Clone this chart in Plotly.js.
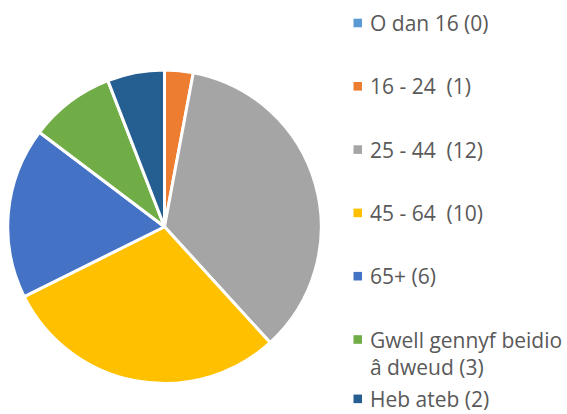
<!DOCTYPE html>
<html>
<head>
<meta charset="utf-8">
<script src="https://cdn.plot.ly/plotly-3.0.1.min.js"></script>
<style>html,body{margin:0;padding:0;background:#fff;}#chart{width:567px;height:414px;}</style>
</head>
<body>
<div id="chart"></div>
<script>
const categories = ["O dan 16", "16 - 24", "25 - 44", "45 - 64", "65+", "Gwell gennyf beidio â dweud", "Heb ateb"];
const counts = [0, 1, 12, 10, 6, 3, 2];
const legendText = ["O dan 16 (0)", "16 - 24  (1)", "25 - 44  (12)", "45 - 64  (10)", "65+ (6)", "Gwell gennyf beidio<br>â dweud (3)", "Heb ateb (2)"];
const colors = ["#5B9BD5", "#ED7D31", "#A5A5A5", "#FFC000", "#4472C4", "#70AD47", "#255E91"];

// legend layout constants (pixels from top-left)
const W = 567, H = 414;
const rowTop = 23, rowStep = 63.3;
const font = "'Open Sans', sans-serif";
const fs = 21, lineH = fs * 1.3;

const annotations = [];
const shapes = [];
legendText.forEach((t, i) => {
  const yc = Math.min(rowTop + i * rowStep, H - lineH / 2 - 1.5);
  const nLines = t.split("<br>").length;
  shapes.push({type: "rect", xref: "paper", yref: "paper",
    x0: 353.5 / W, x1: 362 / W, y0: 1 - (yc + 4.3) / H, y1: 1 - (yc - 4.3) / H,
    fillcolor: colors[i], line: {width: 0}});
  annotations.push({xref: "paper", yref: "paper", x: 369 / W,
    y: 1 - (yc + (nLines - 1) * lineH / 2) / H,
    xanchor: "left", yanchor: "middle", align: "left", showarrow: false, text: t,
    borderpad: 0,
    font: {family: font, size: fs, color: "#595959"}});
});

const data = [{
  type: "pie",
  labels: categories,
  values: counts,
  sort: false,
  direction: "clockwise",
  rotation: 0,
  marker: {colors: colors, line: {color: "#FFFFFF", width: 3}},
  textinfo: "none",
  hoverinfo: "label+value",
  showlegend: false,
  domain: {x: [7.5 / W, 321.5 / W], y: [30.5 / H, 344 / H]}
}];

const layout = {
  width: W, height: H,
  margin: {l: 0, r: 0, t: 0, b: 0},
  paper_bgcolor: "#FFFFFF",
  showlegend: false,
  annotations: annotations,
  shapes: shapes,
  font: {family: font}
};

Plotly.newPlot("chart", data, layout, {staticPlot: true});
</script>
</body>
</html>
